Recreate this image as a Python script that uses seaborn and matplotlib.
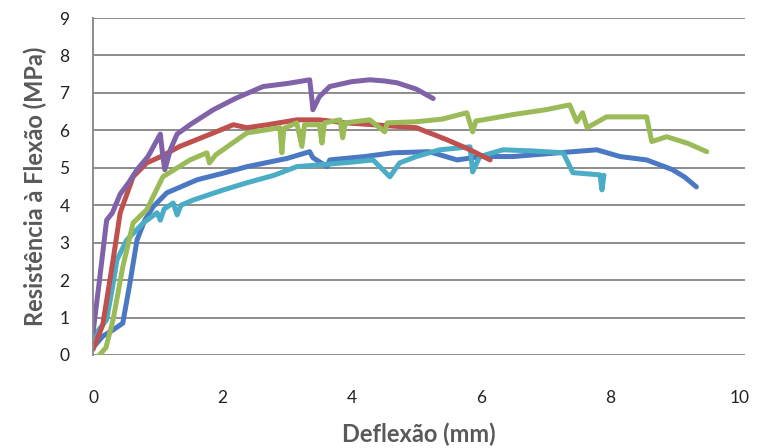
import matplotlib
matplotlib.use('Agg')
import matplotlib.pyplot as plt
import seaborn as sns
import pandas as pd

# curves: deflexao (mm) / resistencia (MPa)
roxo_x = [0.0, 0.1, 0.21, 0.3, 0.42, 0.55, 0.68, 0.85, 1.04, 1.08, 1.11, 1.2, 1.3, 1.5, 1.86, 2.2, 2.63, 3.0, 3.35, 3.38, 3.4, 3.5, 3.66, 4.0, 4.28, 4.5, 4.7, 5.0, 5.26]
roxo_y = [0.6, 2.0, 3.6, 3.8, 4.3, 4.6, 4.95, 5.3, 5.9, 5.3, 4.95, 5.5, 5.9, 6.15, 6.55, 6.85, 7.17, 7.25, 7.35, 6.9, 6.55, 6.9, 7.17, 7.3, 7.35, 7.32, 7.27, 7.1, 6.85]

verm_x = [0.0, 0.15, 0.31, 0.42, 0.62, 0.83, 1.05, 1.34, 1.6, 1.86, 2.17, 2.38, 2.7, 3.15, 3.5, 3.9, 4.33, 5.0, 5.47, 5.83, 6.14]
verm_y = [0.15, 0.8, 2.54, 3.8, 4.76, 5.13, 5.3, 5.57, 5.75, 5.93, 6.15, 6.07, 6.15, 6.28, 6.28, 6.2, 6.15, 6.07, 5.75, 5.48, 5.21]

verde_x = [0.1, 0.2, 0.31, 0.46, 0.62, 0.83, 1.08, 1.5, 1.76, 1.8, 1.9, 2.38, 2.89, 2.92, 2.95, 3.15, 3.23, 3.27, 3.5, 3.54, 3.58, 3.82, 3.86, 3.9, 4.28, 4.51, 4.55, 5.0, 5.4, 5.78, 5.87, 5.92, 6.03, 6.49, 7.0, 7.37, 7.48, 7.57, 7.64, 7.94, 8.56, 8.64, 8.87, 9.2, 9.49]
verde_y = [0.0, 0.2, 0.94, 2.35, 3.53, 3.88, 4.76, 5.21, 5.4, 5.13, 5.35, 5.93, 6.07, 5.4, 6.05, 6.2, 5.57, 6.15, 6.15, 5.66, 6.2, 6.28, 5.8, 6.2, 6.28, 5.96, 6.2, 6.23, 6.3, 6.47, 5.96, 6.25, 6.28, 6.42, 6.55, 6.68, 6.23, 6.47, 6.07, 6.36, 6.36, 5.7, 5.83, 5.65, 5.43]

azul_x = [0.0, 0.15, 0.31, 0.46, 0.57, 0.68, 0.8, 0.93, 1.14, 1.61, 2.0, 2.38, 3.0, 3.35, 3.4, 3.62, 3.66, 4.2, 4.64, 5.2, 5.63, 6.0, 6.49, 7.2, 7.79, 8.15, 8.56, 8.96, 9.15, 9.33]
azul_y = [0.2, 0.5, 0.67, 0.85, 1.92, 3.07, 3.6, 3.96, 4.33, 4.68, 4.85, 5.03, 5.25, 5.43, 5.27, 5.03, 5.21, 5.3, 5.4, 5.43, 5.21, 5.3, 5.3, 5.4, 5.48, 5.3, 5.21, 4.95, 4.75, 4.49]

ciano_x = [0.0, 0.21, 0.3, 0.37, 0.52, 0.78, 0.99, 1.04, 1.1, 1.24, 1.3, 1.36, 1.55, 2.0, 2.38, 2.8, 3.15, 3.66, 4.0, 4.33, 4.59, 4.74, 5.0, 5.36, 5.83, 5.87, 5.98, 6.34, 6.8, 7.27, 7.42, 7.84, 7.87, 7.9]
ciano_y = [0.48, 0.94, 1.8, 2.54, 3.07, 3.53, 3.8, 3.6, 3.9, 4.06, 3.74, 4.0, 4.14, 4.4, 4.6, 4.8, 5.03, 5.1, 5.15, 5.21, 4.76, 5.13, 5.3, 5.48, 5.56, 4.89, 5.3, 5.48, 5.45, 5.4, 4.87, 4.81, 4.41, 4.8]

series = {
    'roxo': (roxo_x, roxo_y),
    'vermelho': (verm_x, verm_y),
    'verde': (verde_x, verde_y),
    'azul': (azul_x, azul_y),
    'ciano': (ciano_x, ciano_y),
}
cores = {'roxo': '#7F62A8', 'vermelho': '#C0504D', 'verde': '#9BBB59',
         'azul': '#4A78C2', 'ciano': '#4BACC6'}

rows = []
for nome, (xs, ys) in series.items():
    for i, (x, y) in enumerate(zip(xs, ys)):
        rows.append({'amostra': nome, 'ordem': i, 'Deflexao': x, 'Resistencia': y})
df = pd.DataFrame(rows)

sns.set_style('white')
plt.rcParams['font.family'] = ['Lato', 'DejaVu Sans']

fig = plt.figure(figsize=(7.57, 4.48), dpi=100)
ax = fig.add_axes([0.1229, 0.2076, 0.8611, 0.7522])

# order to get the overlap right (blue/cyan under, purple on top)
for nome in ['azul', 'ciano', 'vermelho', 'verde', 'roxo']:
    sub = df[df['amostra'] == nome]
    sns.lineplot(data=sub, x='Deflexao', y='Resistencia', sort=False, estimator=None,
                 color=cores[nome], linewidth=3.6, ax=ax, legend=False)

ax.set_xlim(0, 10.08)
ax.set_ylim(0, 9)
ax.set_xticks(range(0, 11, 2))
ax.set_yticks(range(0, 10))
ax.yaxis.grid(True, color='#8C8C8C', linewidth=1.4)
ax.set_axisbelow(True)
for s in ['right', 'bottom', 'top']:
    ax.spines[s].set_visible(False)
ax.spines['left'].set_color('#8C8C8C')
ax.spines['left'].set_linewidth(1.4)
ax.tick_params(axis='both', length=0, labelsize=12.5, colors='#222222')
ax.tick_params(axis='y', pad=17)
ax.tick_params(axis='x', pad=25)

ax.set_xlabel('Deflexão (mm)', fontsize=17, fontweight='bold', color='#595959', labelpad=12)
ax.set_ylabel('Resistência à Flexão (MPa)', fontsize=17, fontweight='bold', color='#595959', labelpad=9)

fig.savefig('out.png', dpi=100)
